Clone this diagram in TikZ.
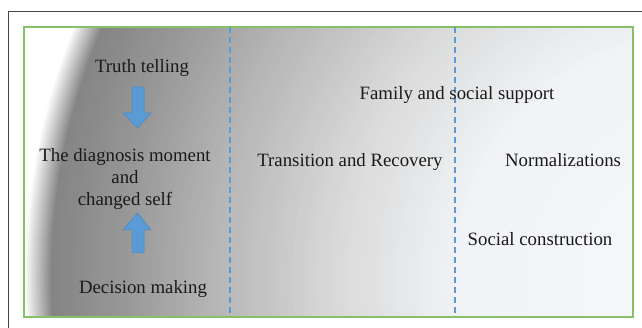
\documentclass[tikz,border=0pt]{standalone}
\usepackage{fontspec}
\setmainfont{Liberation Serif}
\newfontfamily\lserif{Liberation Serif}
\definecolor{gA}{HTML}{F6F8FB}
\definecolor{gB}{HTML}{F1F3F6}
\definecolor{gC}{HTML}{DADADA}
\definecolor{gD}{HTML}{B6B6B6}
\definecolor{gE}{HTML}{979797}
\definecolor{gF}{HTML}{858585}
\definecolor{txt}{HTML}{1A1A1A}
\definecolor{dashblue}{HTML}{5B9BD5}
\definecolor{arrowblue}{HTML}{5B9BD5}
\definecolor{arrowedge}{HTML}{4A86BF}
\definecolor{boxgreen}{HTML}{86C167}
\definecolor{frame}{HTML}{444444}
% concentric ring gradient: #1 inner radius, #2 outer radius, #3 inner colour, #4 outer colour
\newcommand\ringseg[4]{%
  \foreach \p in {100,95,...,0}{%
    \pgfmathsetmacro\rr{#1+\p/100*(#2-#1)}%
    \fill[#4!\p!#3] (glow) circle (\rr pt);
  }%
}
\begin{document}
\begin{tikzpicture}[x=1pt,y=-1pt,
  lbl/.style={font=\lserif\fontsize{18.8}{22}\selectfont, text=txt, inner sep=0pt, align=center},
  divider/.style={draw=dashblue, line width=1.8pt, dash pattern=on 6pt off 4pt},
  blockarrow/.style={fill=arrowblue, draw=arrowedge, line width=0.5pt}]
\useasboundingbox (0,0) rectangle (642,328);
\fill[white] (0,0) rectangle (642,328);
\coordinate (glow) at (700,280);
\begin{scope}
  \clip (24,27) rectangle (633,317);
  \fill[white] (24,27) rectangle (633,317);
  \ringseg{649}{676}{gF}{white}
  \ringseg{581}{649}{gE}{gF}
  \ringseg{487}{581}{gD}{gE}
  \ringseg{365}{487}{gC}{gD}
  \ringseg{243}{365}{gB}{gC}
  \ringseg{0}{243}{gA}{gB}
\end{scope}
\draw[draw=frame, line width=1pt] (8,328) -- (8,12) -- (642,12);
\draw[draw=boxgreen, line width=1.5pt] (24,27) rectangle (633,317);
\coordinate (d1t) at (230,27);
\coordinate (d1b) at (230,317);
\coordinate (d2t) at (455,27);
\coordinate (d2b) at (455,317);
\draw[divider] (d1t) -- (d1b);
\draw[divider] (d2t) -- (d2b);
% left column
\node[lbl, anchor=base] (truth) at (142,73) {Truth telling};
\node[lbl, anchor=center] (diag) at (125,179) {The diagnosis moment\\and\\changed self};
\node[lbl, anchor=base] (decision) at (143,294) {Decision making};
\filldraw[blockarrow] (132,87) -- (144,87) -- (144,113) -- (151,113) -- (137.5,128) -- (123,113) -- (132,113) -- cycle;
\filldraw[blockarrow] (132,253) -- (144,253) -- (144,230) -- (151,230) -- (137.5,213) -- (123,230) -- (132,230) -- cycle;
% middle and right
\node[lbl, anchor=base] (trans) at (350,167) {Transition and Recovery};
\node[lbl, anchor=base] (family) at (457,100) {Family and social support};
\node[lbl, anchor=base] (norm) at (563,167) {Normalizations};
\node[lbl, anchor=base] (social) at (540,246) {Social construction};
\end{tikzpicture}
\end{document}
